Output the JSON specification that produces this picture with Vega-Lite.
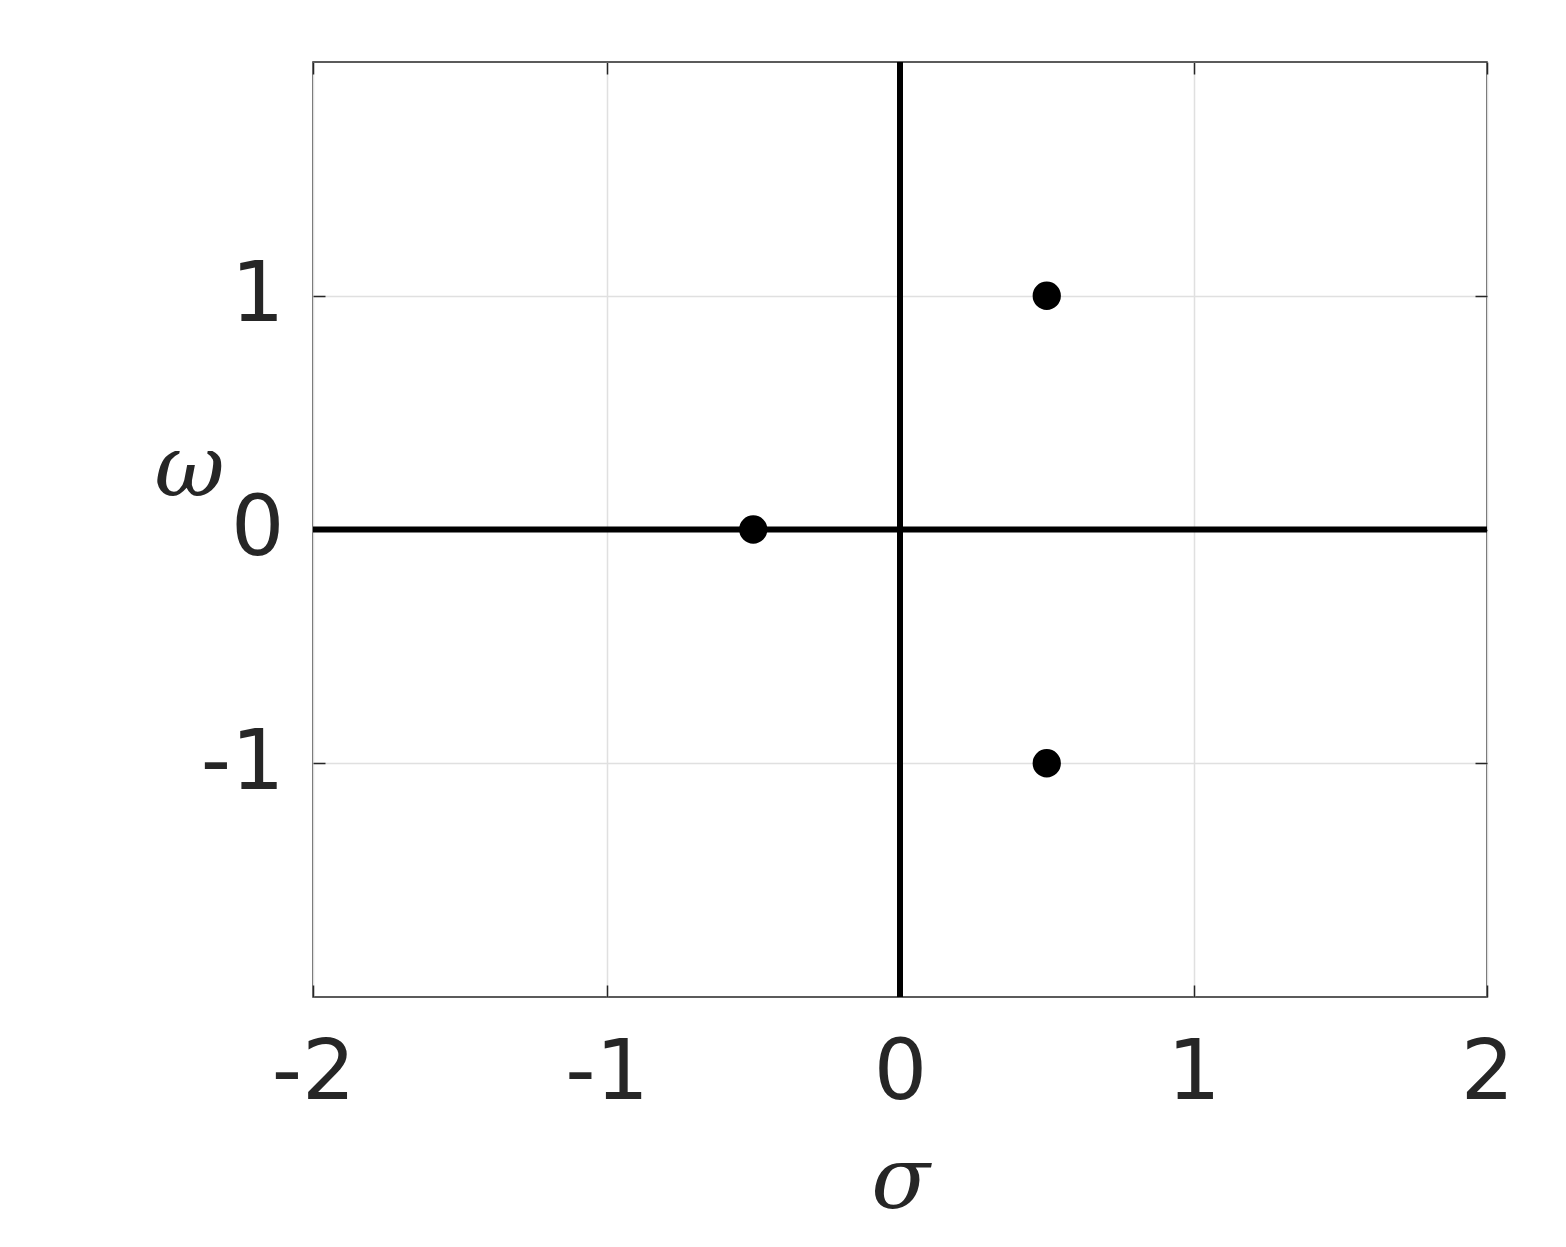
{
  "$schema": "https://vega.github.io/schema/vega-lite/v6.json",
  "width": 1174,
  "height": 935,
  "autosize": {"type": "none"},
  "padding": {"left": 313, "top": 62, "right": 79, "bottom": 250},
  "background": "white",
  "config": {
    "view": {"stroke": "#262626", "strokeWidth": 1.5},
    "axis": {
      "labelFont": "DejaVu Sans",
      "labelFontSize": 84,
      "labelColor": "#262626",
      "labelFlush": false,
      "labelOverlap": false,
      "domain": false,
      "tickColor": "#262626",
      "tickWidth": 1.5,
      "tickSize": -12,
      "gridColor": "#e0e0e0",
      "gridWidth": 1.5,
      "titleFont": "DejaVu Serif",
      "titleFontStyle": "italic",
      "titleFontWeight": "normal",
      "titleFontSize": 86,
      "titleColor": "#262626"
    }
  },
  "datasets": {
    "poles": [
      {"sigma": -0.5, "omega": 0},
      {"sigma": 0.5, "omega": 1},
      {"sigma": 0.5, "omega": -1}
    ],
    "origin": [{"v": 0}]
  },
  "layer": [
    {
      "data": {"name": "origin"},
      "mark": {"type": "rule", "color": "black", "strokeWidth": 6},
      "encoding": {
        "x": {
          "field": "v", "type": "quantitative",
          "scale": {"domain": [-2, 2], "nice": false, "zero": false},
          "axis": {"orient": "top", "labels": false, "grid": false, "title": null, "values": [-2, -1, 0, 1, 2]}
        }
      }
    },
    {
      "data": {"name": "origin"},
      "mark": {"type": "rule", "color": "black", "strokeWidth": 6},
      "encoding": {
        "y": {
          "field": "v", "type": "quantitative",
          "scale": {"domain": [-2, 2], "nice": false, "zero": false},
          "axis": {"orient": "right", "labels": false, "grid": false, "title": null, "values": [-1, 0, 1]}
        }
      }
    },
    {
      "data": {"name": "poles"},
      "mark": {"type": "circle", "color": "black", "opacity": 1, "size": 800},
      "encoding": {
        "x": {
          "field": "sigma", "type": "quantitative",
          "scale": {"domain": [-2, 2], "nice": false, "zero": false},
          "axis": {
            "orient": "bottom", "grid": true, "values": [-2, -1, 0, 1, 2],
            "labelExpr": "'' + datum.value", "labelPadding": 47,
            "title": "σ", "titleY": 210, "titleBaseline": "alphabetic", "titleAlign": "center"
          }
        },
        "y": {
          "field": "omega", "type": "quantitative",
          "scale": {"domain": [-2, 2], "nice": false, "zero": false},
          "axis": {
            "orient": "left", "grid": true, "values": [-1, 0, 1],
            "labelExpr": "'' + datum.value", "labelPadding": 41, "labelDy": 3,
            "title": "ω", "titleAngle": 0, "titleX": -124, "titleY": 433,
            "titleBaseline": "alphabetic", "titleAlign": "center"
          }
        }
      }
    }
  ],
  "resolve": {"axis": {"x": "independent", "y": "independent"}}
}
